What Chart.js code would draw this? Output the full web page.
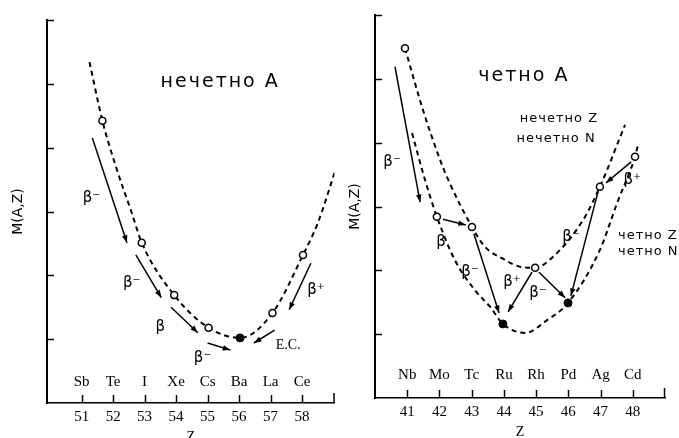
<!DOCTYPE html>
<html>
<head>
<meta charset="utf-8">
<title>M(A,Z)</title>
<script src="https://cdn.jsdelivr.net/npm/chart.js@4.4.1/dist/chart.umd.min.js"></script>
<style>
  html, body { margin: 0; padding: 0; background: #fff; }
  #page { position: relative; width: 679px; height: 438px; overflow: hidden; }
  #oddA { position: absolute; left: 0; top: 0; }
  #evenA { position: absolute; left: 340px; top: 0; }
</style>
</head>
<body>
<div id="page">
  <canvas id="oddA" width="340" height="450"></canvas>
  <canvas id="evenA" width="339" height="450"></canvas>
</div>
<script>
// ---- нечетно A ----
const oddZ = [51, 52, 53, 54, 55, 56, 57, 58];
const oddSymbols = ['Sb', 'Te', 'I', 'Xe', 'Cs', 'Ba', 'La', 'Ce'];
const oddCurveZ = [51.25, 51.66, 52.09, 52.59, 52.91, 53.94, 55.03, 56.03, 57.06, 58.03, 58.5, 59.06];
const oddCurveM = [5.34, 4.42, 3.70, 2.98, 2.51, 1.69, 1.18, 1.02, 1.41, 2.32, 2.82, 3.65];
const oddOpenZ = [51.66, 52.91, 53.94, 55.03, 57.06, 58.03];
const oddOpenM = [4.42, 2.51, 1.69, 1.18, 1.41, 2.32];
const oddStableZ = [56.03];
const oddStableM = [1.02];
// decay arrows: [fromZ, fromM, toZ, toM]
const oddArrows = [
  [51.34, 4.15, 52.44, 2.51],
  [52.72, 2.32, 53.53, 1.65],
  [53.84, 1.50, 54.69, 1.10],
  [55.00, 0.94, 55.72, 0.83],
  [57.13, 1.14, 56.47, 0.94],
  [58.28, 2.19, 57.59, 1.46]
];
const oddNotes = [
  { text: 'нечетно A', z: 55.4, m: 5.03, font: '19px "DejaVu Sans"', spacing: '2px' },
  { text: 'β⁻', z: 51.31, m: 3.21 },
  { text: 'β⁻', z: 52.59, m: 1.88 },
  { text: 'β', z: 53.5, m: 1.19 },
  { text: 'β⁻', z: 54.84, m: 0.71 },
  { text: 'E.C.', z: 57.56, m: 0.91, font: '14px "Liberation Serif"' },
  { text: 'β⁺', z: 58.44, m: 1.77 }
];

// ---- четно A ----
const evenZ = [41, 42, 43, 44, 45, 46, 47, 48];
const evenSymbols = ['Nb', 'Mo', 'Tc', 'Ru', 'Rh', 'Pd', 'Ag', 'Cd'];
// нечетно Z, нечетно N
const ooCurveZ = [40.93, 41.49, 42.02, 42.27, 43.01, 43.41, 43.94, 44.56, 44.97, 45.52, 46.46, 46.98, 47.76];
const ooCurveM = [5.48, 4.51, 3.73, 3.42, 2.68, 2.37, 2.19, 2.05, 2.04, 2.21, 2.79, 3.31, 4.28];
// четно Z, четно N
const eeCurveZ = [41.15, 41.55, 41.92, 42.48, 43.10, 43.57, 43.97, 44.66, 45.34, 45.99, 46.98, 47.51, 48.07, 48.16];
const eeCurveM = [4.15, 3.42, 2.84, 2.16, 1.69, 1.43, 1.16, 1.02, 1.22, 1.49, 2.32, 3.05, 3.78, 3.96];
const evenOpenZ = [40.93, 41.92, 43.01, 44.97, 46.98, 48.07];
const evenOpenM = [5.48, 2.84, 2.68, 2.04, 3.31, 3.78];
const evenStableZ = [43.97, 45.99];
const evenStableM = [1.16, 1.49];
const evenArrows = [
  [40.62, 5.19, 41.40, 3.07],
  [42.11, 2.80, 42.82, 2.71],
  [43.07, 2.57, 43.85, 1.33],
  [44.87, 1.97, 44.13, 1.35],
  [45.09, 1.97, 45.90, 1.57],
  [46.92, 3.23, 46.08, 1.60],
  [47.95, 3.70, 47.17, 3.37]
];
const evenNotes = [
  { text: 'четно A', z: 44.62, m: 5.04, font: '19px "DejaVu Sans"', spacing: '2px' },
  { text: 'нечетно Z', z: 45.71, m: 4.37, font: '13px "DejaVu Sans"', spacing: '1px' },
  { text: 'нечетно N', z: 45.62, m: 4.06, font: '13px "DejaVu Sans"', spacing: '1px' },
  { text: 'четно Z', z: 47.54, m: 2.55, font: '13px "DejaVu Sans"', spacing: '1px', align: 'left' },
  { text: 'четно N', z: 47.54, m: 2.29, font: '13px "DejaVu Sans"', spacing: '1px', align: 'left' },
  { text: 'β⁻', z: 40.53, m: 3.70 },
  { text: 'β', z: 42.05, m: 2.44 },
  { text: 'β⁻', z: 42.95, m: 1.97 },
  { text: 'β⁺', z: 44.25, m: 1.82 },
  { text: 'β⁻', z: 45.06, m: 1.64 },
  { text: 'β⁻', z: 46.08, m: 2.52 },
  { text: 'β⁺', z: 47.98, m: 3.42 }
];

const mTicks = [1, 2, 3, 4, 5];

function pairs(zs, ms) {
  return zs.map((z, i) => ({ x: z, y: ms[i] }));
}

// arrowheads, inward ticks, element symbols and text notes
function sketchPlugin(zTicks, symbols, symbolM, notes) {
  return {
    id: 'sketch',
    afterDatasetsDraw(chart) {
      const { ctx, chartArea: a } = chart;
      const x = chart.scales.x, y = chart.scales.y;
      ctx.save();
      ctx.fillStyle = '#000';
      ctx.strokeStyle = '#000';

      chart.data.datasets.forEach((ds, i) => {
        if (!ds.arrow) return;
        const pts = chart.getDatasetMeta(i).data;
        const p = pts[1], q = pts[0];
        const t = Math.atan2(p.y - q.y, p.x - q.x);
        ctx.beginPath();
        ctx.moveTo(p.x, p.y);
        ctx.lineTo(p.x - 8 * Math.cos(t - 0.35), p.y - 8 * Math.sin(t - 0.35));
        ctx.lineTo(p.x - 8 * Math.cos(t + 0.35), p.y - 8 * Math.sin(t + 0.35));
        ctx.closePath();
        ctx.fill();
      });

      ctx.lineWidth = 1.5;
      ctx.beginPath();
      mTicks.forEach(v => {
        const py = Math.round(y.getPixelForValue(v)) + 0.5;
        ctx.moveTo(a.left, py);
        ctx.lineTo(a.left + 7, py);
      });
      zTicks.forEach(v => {
        const px = Math.round(x.getPixelForValue(v)) + 0.5;
        ctx.moveTo(px, a.bottom);
        ctx.lineTo(px, a.bottom - 8);
      });
      ctx.moveTo(a.left, a.top + 0.5);
      ctx.lineTo(a.left + 7, a.top + 0.5);
      ctx.moveTo(a.right - 0.5, a.bottom);
      ctx.lineTo(a.right - 0.5, a.bottom - 10);
      ctx.stroke();

      ctx.textAlign = 'center';
      ctx.textBaseline = 'middle';
      ctx.font = '15px "Liberation Serif"';
      symbols.forEach((s, k) => {
        ctx.fillText(s, x.getPixelForValue(zTicks[k]), y.getPixelForValue(symbolM));
      });

      notes.forEach(n => {
        ctx.font = n.font || '15px "DejaVu Sans"';
        ctx.letterSpacing = n.spacing || '0px';
        ctx.textAlign = n.align || 'center';
        ctx.fillText(n.text, x.getPixelForValue(n.z), y.getPixelForValue(n.m));
      });
      ctx.restore();
    }
  };
}

function makeChart(id, p) {
  const datasets = [
    {
      data: pairs(p.openZ, p.openM), showLine: false,
      pointRadius: 3.5, pointBackgroundColor: '#fff', pointBorderColor: '#000', pointBorderWidth: 1.5
    },
    {
      data: pairs(p.stableZ, p.stableM), showLine: false,
      pointRadius: 4, pointBackgroundColor: '#000', pointBorderColor: '#000', pointBorderWidth: 1
    }
  ];
  p.arrows.forEach(r => {
    datasets.push({
      data: [{ x: r[0], y: r[1] }, { x: r[2], y: r[3] }],
      borderColor: '#000', borderWidth: 1.5, pointRadius: 0, arrow: true
    });
  });
  p.curves.forEach(c => {
    datasets.push({
      data: pairs(c[0], c[1]),
      borderColor: '#000', borderWidth: 2, borderDash: [5, 4],
      pointRadius: 0, cubicInterpolationMode: 'monotone'
    });
  });

  return new Chart(document.getElementById(id), {
    type: 'line',
    data: { datasets },
    options: {
      responsive: false,
      animation: false,
      devicePixelRatio: 1,
      layout: { padding: p.padding },
      plugins: { legend: { display: false }, tooltip: { enabled: false } },
      scales: {
        x: {
          type: 'linear', min: p.zMin, max: p.zMax,
          border: { color: '#000', width: 1.5 },
          grid: { display: false, drawTicks: false },
          afterBuildTicks: s => { s.ticks = p.zTicks.map(v => ({ value: v })); },
          ticks: {
            color: '#000', padding: 5, autoSkip: false, maxRotation: 0,
            font: { family: 'Liberation Serif', size: 15 }
          },
          title: {
            display: true, text: 'Z', color: '#000',
            font: { family: 'Liberation Serif', size: 14 },
            padding: { top: 0, bottom: p.zTitlePad }
          },
          afterFit: s => { s.height = p.xHeight; }
        },
        y: {
          type: 'linear', min: 0, max: 6,
          border: { color: '#000', width: 2 },
          grid: { display: false, drawTicks: false },
          ticks: { display: false },
          title: {
            display: true, text: 'M(A,Z)', color: '#000',
            font: { family: 'DejaVu Sans', size: 14 },
            padding: { top: p.mTitlePad, bottom: 0 }
          },
          afterFit: s => { s.width = p.yWidth; }
        }
      }
    },
    plugins: [sketchPlugin(p.zTicks, p.symbols, p.symbolM, p.notes)]
  });
}

makeChart('oddA', {
  zMin: 49.9, zMax: 59.03, zTicks: oddZ, symbols: oddSymbols, symbolM: 0.33,
  curves: [[oddCurveZ, oddCurveM]],
  openZ: oddOpenZ, openM: oddOpenM, stableZ: oddStableZ, stableM: oddStableM,
  arrows: oddArrows, notes: oddNotes,
  padding: { top: 20, right: 1, bottom: 0, left: 0 },
  xHeight: 47, yWidth: 47, zTitlePad: 4, mTitlePad: 10
});

makeChart('evenA', {
  zMin: 40, zMax: 49, zTicks: evenZ, symbols: evenSymbols, symbolM: 0.36,
  curves: [[ooCurveZ, ooCurveM], [eeCurveZ, eeCurveM]],
  openZ: evenOpenZ, openM: evenOpenM, stableZ: evenStableZ, stableM: evenStableM,
  arrows: evenArrows, notes: evenNotes,
  padding: { top: 15, right: 14, bottom: 0, left: 0 },
  xHeight: 52, yWidth: 35, zTitlePad: 9, mTitlePad: 7
});
</script>
</body>
</html>
